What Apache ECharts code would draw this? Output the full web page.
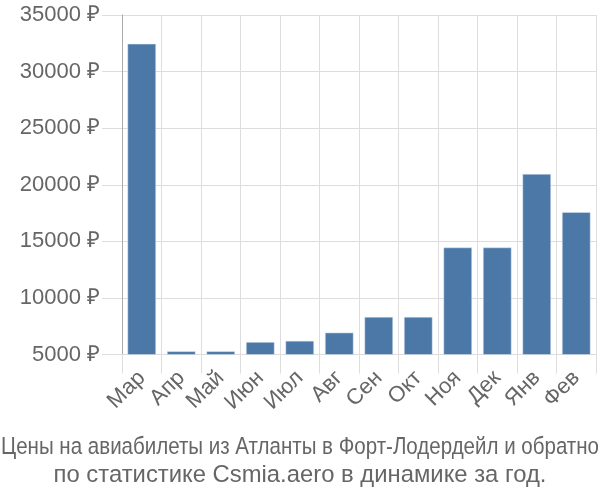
<!DOCTYPE html>
<html><head><meta charset="utf-8">
<script src="https://cdn.jsdelivr.net/npm/echarts@6/dist/echarts.min.js"></script>
<style>html,body{margin:0;padding:0;background:#fff}#c{width:600px;height:500px}</style>
</head><body><div id="c"></div>
<script>
const categories = ['Мар','Апр','Май','Июн','Июл','Авг','Сен','Окт','Ноя','Дек','Янв','Фев'];
const prices = [32450, 5280, 5280, 6100, 6200, 6930, 8320, 8320, 14450, 14450, 20950, 17580];
const titleLines = ['Цены на авиабилеты из Атланты в Форт-Лодердейл и обратно', 'по статистике Csmia.aero в динамике за год.'];

const FONT = 'Liberation Sans, Arial, sans-serif';
const cv = document.createElement('canvas').getContext('2d');
function measure(t, size) { cv.font = size + 'px ' + FONT; return cv.measureText(t).width; }
// line 2 natural width ~493px in the reference; line 1 squeezed to ~598px
const size2 = 20 * 493 / measure(titleLines[1], 20);
const w1 = measure(titleLines[0], size2);
const sx1 = Math.min(1, 598 / w1);

const chart = echarts.init(document.getElementById('c'), null, {renderer: 'canvas'});
chart.setOption({
  animation: false,
  graphic: [
    {type: 'text', x: 300, y: 447, scaleX: sx1, silent: true,
     style: {text: titleLines[0], fill: '#666', font: size2 + 'px ' + FONT, textAlign: 'center', textVerticalAlign: 'middle'}},
    {type: 'text', x: 300, y: 475, silent: true,
     style: {text: titleLines[1], fill: '#666', font: size2 + 'px ' + FONT, textAlign: 'center', textVerticalAlign: 'middle'}}
  ],
  grid: {left: 122, right: 4, top: 15, bottom: 145.5, containLabel: false},
  xAxis: {
    type: 'category', data: categories,
    axisLine: {show: true, lineStyle: {color: '#ddd', width: 1}},
    axisTick: {show: true, length: 19, lineStyle: {color: '#ddd'}},
    splitLine: {show: true, lineStyle: {color: '#ddd', width: 1}},
    axisLabel: {rotate: 45, fontSize: 22, color: '#666', fontFamily: FONT, margin: 20, interval: 0}
  },
  yAxis: {
    type: 'value', min: 5000, max: 35000, interval: 5000,
    axisLine: {show: true, lineStyle: {color: '#aaa', width: 1}},
    axisTick: {show: true, length: 20, lineStyle: {color: '#ddd'}},
    splitLine: {show: true, lineStyle: {color: '#ddd', width: 1}},
    axisLabel: {formatter: v => v + ' ₽', fontSize: 22, color: '#666', fontFamily: FONT, margin: 22}
  },
  series: [{
    type: 'bar', data: prices, barCategoryGap: '28%',
    itemStyle: {color: '#4c78a8', borderColor: '#dde6f0', borderWidth: 0.5}
  }]
});
</script></body></html>
